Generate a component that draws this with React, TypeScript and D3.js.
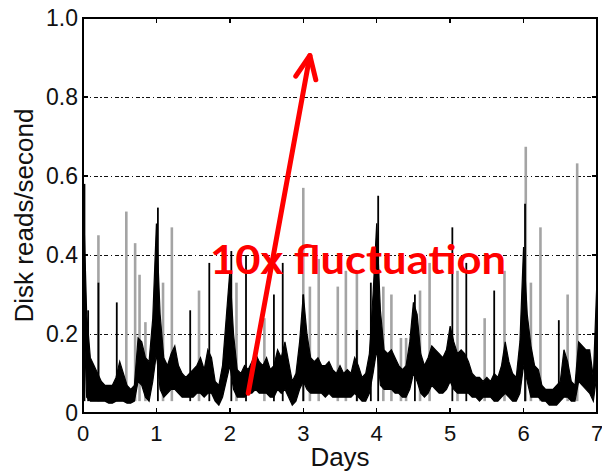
import * as d3 from "d3";
import React from "react";

// sampling step of the envelope arrays (days)
const STEP = 0.05;

// lower / upper edge of the dark band, one value every 0.05 day from day 0 to day 7
const bandLow = [
  0.30, 0.04, 0.03, 0.03, 0.03, 0.03, 0.03, 0.025, 0.025, 0.03,
  0.03, 0.03, 0.025, 0.025, 0.03, 0.08, 0.07, 0.04, 0.03, 0.08,
  0.15, 0.06, 0.04, 0.05, 0.06, 0.06, 0.05, 0.04, 0.04, 0.04,
  0.04, 0.05, 0.05, 0.04, 0.05, 0.05, 0.03, 0.02, 0.04, 0.08,
  0.12, 0.06, 0.04, 0.04, 0.04, 0.05, 0.05, 0.06, 0.05, 0.05,
  0.05, 0.04, 0.04, 0.06, 0.05, 0.06, 0.04, 0.02, 0.03, 0.06,
  0.08, 0.06, 0.05, 0.05, 0.05, 0.05, 0.04, 0.05, 0.04, 0.04,
  0.04, 0.04, 0.04, 0.04, 0.05, 0.04, 0.03, 0.03, 0.05, 0.10,
  0.16, 0.07, 0.06, 0.06, 0.06, 0.05, 0.05, 0.04, 0.04, 0.06,
  0.10, 0.08, 0.05, 0.04, 0.05, 0.07, 0.06, 0.05, 0.05, 0.06,
  0.08, 0.06, 0.05, 0.05, 0.05, 0.05, 0.04, 0.04, 0.03, 0.04,
  0.04, 0.04, 0.03, 0.03, 0.04, 0.05, 0.04, 0.03, 0.03, 0.05,
  0.12, 0.08, 0.04, 0.04, 0.04, 0.03, 0.03, 0.02, 0.02, 0.02,
  0.03, 0.04, 0.04, 0.03, 0.03, 0.08, 0.07, 0.06, 0.05, 0.03,
  0.10,
];
const bandHigh = [
  0.58, 0.25, 0.14, 0.12, 0.10, 0.08, 0.07, 0.07, 0.07, 0.09,
  0.13, 0.10, 0.07, 0.06, 0.07, 0.19, 0.18, 0.14, 0.13, 0.24,
  0.48, 0.25, 0.14, 0.12, 0.15, 0.17, 0.12, 0.10, 0.09, 0.10,
  0.11, 0.12, 0.14, 0.11, 0.16, 0.14, 0.08, 0.07, 0.12, 0.24,
  0.36, 0.20, 0.11, 0.10, 0.12, 0.11, 0.13, 0.15, 0.13, 0.12,
  0.14, 0.11, 0.12, 0.16, 0.14, 0.18, 0.13, 0.08, 0.10, 0.18,
  0.30, 0.20, 0.14, 0.13, 0.14, 0.12, 0.12, 0.13, 0.11, 0.10,
  0.12, 0.10, 0.11, 0.10, 0.14, 0.12, 0.09, 0.10, 0.15, 0.30,
  0.48, 0.26, 0.16, 0.15, 0.16, 0.14, 0.12, 0.11, 0.12, 0.18,
  0.28, 0.25, 0.15, 0.12, 0.14, 0.17, 0.16, 0.15, 0.14, 0.16,
  0.22, 0.18, 0.15, 0.16, 0.15, 0.13, 0.10, 0.09, 0.09, 0.08,
  0.09, 0.08, 0.10, 0.09, 0.12, 0.18, 0.13, 0.10, 0.09, 0.18,
  0.42, 0.25, 0.17, 0.12, 0.11, 0.07, 0.06, 0.06, 0.06, 0.07,
  0.08, 0.16, 0.13, 0.08, 0.07, 0.18, 0.17, 0.16, 0.16, 0.09,
  0.34,
];

// narrow dark spikes: day, value
const blackSpikeDays = [0.02, 0.07, 0.21, 0.46, 1.02, 1.46, 1.72, 2.02, 2.22, 2.60, 2.72, 3.00, 3.73, 3.92, 4.02, 4.52, 5.03, 5.22, 5.60, 6.02, 6.48, 7.0];
const blackSpikeValues = [0.58, 0.26, 0.33, 0.28, 0.52, 0.26, 0.38, 0.41, 0.40, 0.30, 0.38, 0.30, 0.21, 0.33, 0.55, 0.30, 0.47, 0.38, 0.31, 0.53, 0.235, 0.34];

// light grey spikes: day, value
const greySpikeDays = [0.21, 0.59, 0.71, 0.77, 0.85, 1.09, 1.21, 1.58, 2.09, 2.47, 3.00, 3.09, 3.21, 3.47, 3.58, 3.73, 4.09, 4.20, 4.33, 4.40, 4.59, 4.72, 5.10, 5.47, 5.74, 6.03, 6.10, 6.23, 6.60, 6.73];
const greySpikeValues = [0.45, 0.51, 0.43, 0.35, 0.23, 0.33, 0.47, 0.31, 0.33, 0.24, 0.57, 0.32, 0.39, 0.32, 0.36, 0.36, 0.32, 0.30, 0.19, 0.19, 0.31, 0.38, 0.36, 0.24, 0.36, 0.674, 0.33, 0.47, 0.30, 0.632];

const xTicks = [0, 1, 2, 3, 4, 5, 6, 7];
const yTicks = [0, 0.2, 0.4, 0.6, 0.8, 1.0];
const yGrid = [0.2, 0.4, 0.6, 0.8];

// annotation arrow (data units) and label
const arrowFrom = [2.25, 0.05];
const arrowTo = [3.09, 0.905];
const annotation = "10x fluctuation";

const W = 602, H = 473;
const M = { left: 83, right: 5, top: 18, bottom: 60 };

export default function App() {
  const x = d3.scaleLinear().domain([0, 7]).range([M.left, W - M.right]);
  const y = d3.scaleLinear().domain([0, 1]).range([H - M.bottom, M.top]);
  const days = bandLow.map((_, i) => i * STEP);

  const area = d3.area<number>()
    .x((d) => x(d))
    .y0((_, i) => y(bandLow[i]))
    .y1((_, i) => y(bandHigh[i]));

  const x0 = x(0), x1 = x(7), yb = y(0), yt = y(1);
  const ax0 = x(arrowFrom[0]), ay0 = y(arrowFrom[1]);
  const ax1 = x(arrowTo[0]), ay1 = y(arrowTo[1]);
  const ang = Math.atan2(ay1 - ay0, ax1 - ax0);
  const headLen = 25, headAng = 0.42;
  const barb = (s: number) => [ax1 - headLen * Math.cos(ang + s * headAng), ay1 - headLen * Math.sin(ang + s * headAng)];
  const b1 = barb(1), b2 = barb(-1);

  const tickFont = "'Liberation Sans', Arial, sans-serif";

  return (
    <svg width={W} height={H} style={{ position: "absolute", left: 0, top: 0, background: "#fff" }}>
      {/* grid */}
      {yGrid.map((v) => (
        <line key={"g" + v} x1={x0} x2={x1} y1={y(v) + 0.5} y2={y(v) + 0.5} stroke="#111" strokeWidth={1} strokeDasharray="4,2.5,1.5,2.5" shapeRendering="crispEdges" />
      ))}
      {/* grey spikes */}
      {greySpikeDays.map((d, i) => (
        <line key={"gs" + i} x1={x(d)} x2={x(d)} y1={y(0.03)} y2={y(greySpikeValues[i])} stroke="#a4a4a4" strokeWidth={2.6} />
      ))}
      {/* dark band */}
      <path d={area(days) || ""} fill="#000" stroke="#000" strokeWidth={1.2} />
      {/* dark spikes */}
      {blackSpikeDays.map((d, i) => (
        <line key={"bs" + i} x1={x(d)} x2={x(d)} y1={y(0.03)} y2={y(blackSpikeValues[i])} stroke="#000" strokeWidth={1.8} />
      ))}
      {/* frame */}
      <g shapeRendering="crispEdges">
        <rect x={x0} y={yt} width={x1 - x0} height={yb - yt} fill="none" stroke="#000" strokeWidth={1.5} />
        {xTicks.map((t) => (
          <g key={"xt" + t}>
            <line x1={x(t)} x2={x(t)} y1={yb} y2={yb - 5} stroke="#000" strokeWidth={1.3} />
            <line x1={x(t)} x2={x(t)} y1={yt} y2={yt + 5} stroke="#000" strokeWidth={1.3} />
          </g>
        ))}
        {yTicks.map((t) => (
          <g key={"ytk" + t}>
            <line x1={x0} x2={x0 + 5} y1={y(t)} y2={y(t)} stroke="#000" strokeWidth={1.3} />
            <line x1={x1} x2={x1 - 5} y1={y(t)} y2={y(t)} stroke="#000" strokeWidth={1.3} />
          </g>
        ))}
      </g>
      {xTicks.map((t) => (
        <text key={"xl" + t} x={x(t)} y={yb + 28} textAnchor="middle" fontFamily={tickFont} fontSize={22} fill="#111">{t}</text>
      ))}
      {yTicks.map((t) => (
        <text key={"yl" + t} x={x0 - 5} y={y(t) + 8} textAnchor="end" fontFamily={tickFont} fontSize={23} fill="#111">{t === 0 ? "0" : t.toFixed(1)}</text>
      ))}
      <text x={(x0 + x1) / 2} y={466} textAnchor="middle" fontFamily={tickFont} fontSize={26} fill="#111">Days</text>
      <text transform={`translate(33,${(yb + yt) / 2}) rotate(-90)`} textAnchor="middle" fontFamily={tickFont} fontSize={26} fill="#111">Disk reads/second</text>
      {/* annotation */}
      <g stroke="#ff0000" strokeWidth={5} strokeLinecap="round" fill="none">
        <line x1={ax0} y1={ay0} x2={ax1} y2={ay1} />
        <polyline points={`${b1[0]},${b1[1]} ${ax1},${ay1} ${b2[0]},${b2[1]}`} strokeLinejoin="round" />
      </g>
      <text x={210} y={274} fontFamily="Lato, 'Open Sans', sans-serif" fontWeight={700} fontSize={40} fill="#ff0000" textLength={296} lengthAdjust="spacingAndGlyphs">{annotation}</text>
    </svg>
  );
}
